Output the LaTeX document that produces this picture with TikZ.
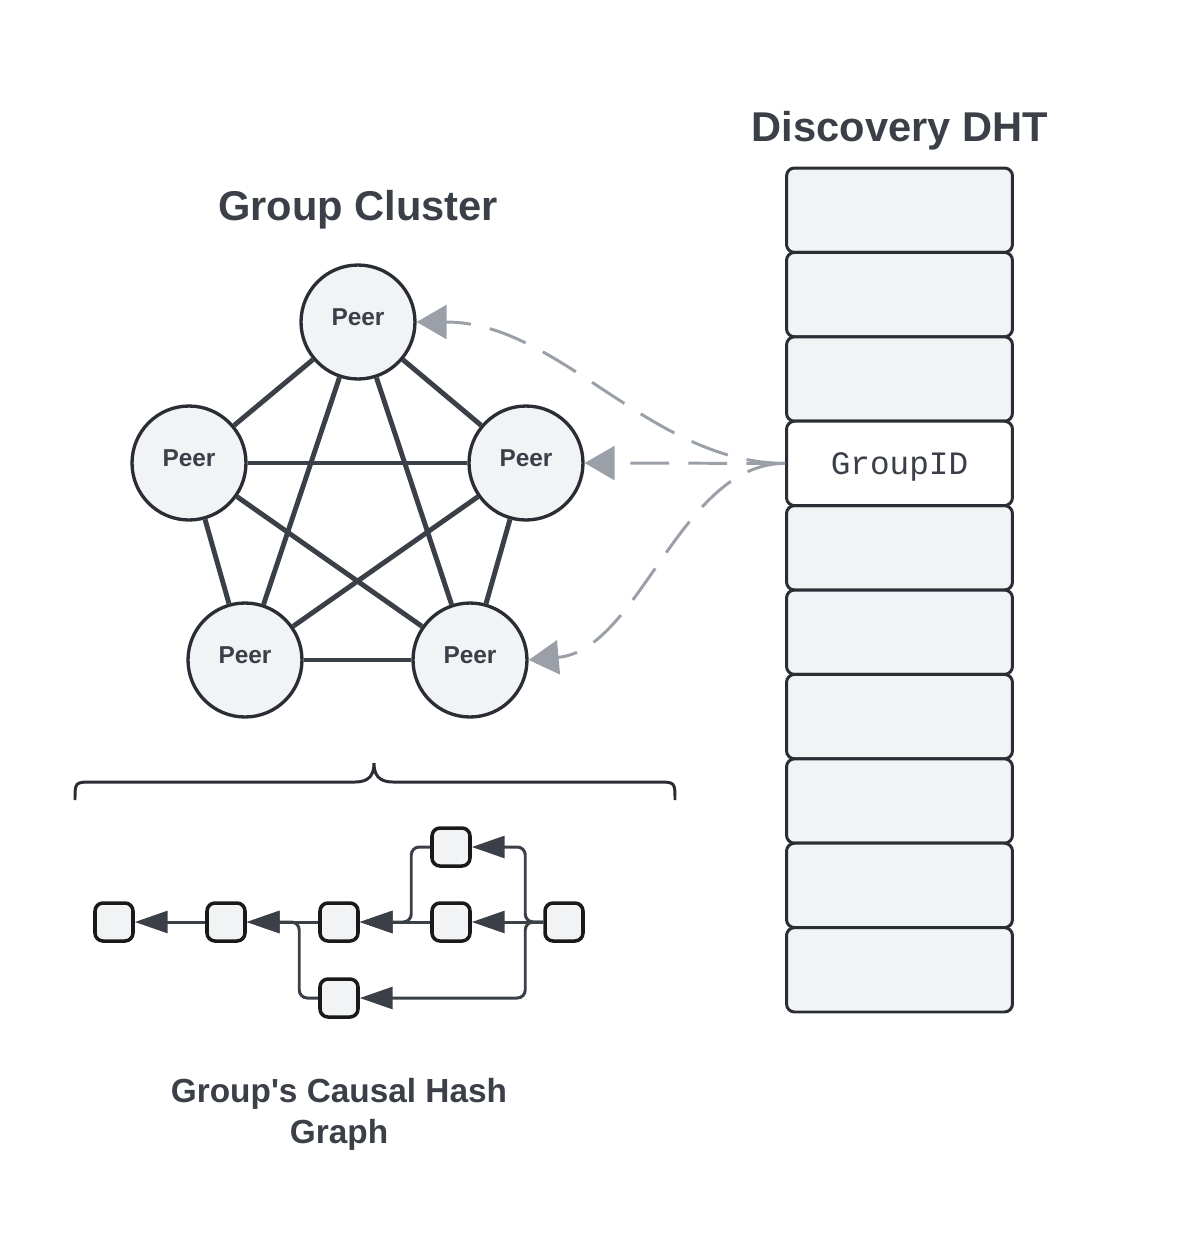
\documentclass[tikz,border=0pt]{standalone}
\usepackage{fontspec}
\setmainfont{Liberation Sans}[Ligatures=TeXOff]
\setmonofont{Liberation Mono}
\usetikzlibrary{arrows.meta,positioning,calc}
\definecolor{inkC}{RGB}{59,63,72}
\definecolor{rimC}{RGB}{42,45,52}
\definecolor{cellC}{RGB}{242,243,245}
\definecolor{dashC}{RGB}{155,160,168}

\begin{document}
\begin{tikzpicture}[
  x=0.02cm,y=-0.02cm,
  every node/.style={text=inkC},
  title/.style={font=\fontsize{23.7}{28}\selectfont\bfseries,anchor=base},
  peer/.style={circle,draw=rimC,line width=1.9pt,fill=cellC,minimum size=2.28cm,inner sep=0pt,
    font=\fontsize{13.9}{16}\selectfont\bfseries,text height=10pt,text depth=5.6pt},
  mesh/.style={draw=inkC,line width=2.8pt},
  cell/.style={draw=rimC,line width=1.7pt,fill=cellC,rounded corners=0.16cm,
    minimum width=4.52cm,minimum height=1.688cm,inner sep=0pt},
  link/.style={draw=dashC,line width=1.7pt,dash pattern=on 22pt off 11pt,
    -{Triangle[length=0.6cm,width=0.68cm]}},
  hash/.style={draw=black!90,line width=2pt,fill=cellC,rounded corners=0.16cm,
    minimum size=0.76cm,inner sep=0pt},
  hedge/.style={draw=inkC,line width=1.7pt,rounded corners=0.16cm,
    -{Triangle[length=0.66cm,width=0.44cm]}}
]
\useasboundingbox (0,0) rectangle (1200,1249);

% titles
\node[title] (clusterTitle) at (358,220) {Group Cluster};
\node[title] (dhtTitle) at (900,141) {Discovery DHT};

% group cluster
\node[peer] (pT) at (358,322) {Peer};
\node[peer] (pL) at (189,463) {Peer};
\node[peer] (pR) at (526,463) {Peer};
\node[peer] (pBL) at (245,660) {Peer};
\node[peer] (pBR) at (470,660) {Peer};
\foreach \a/\b in {pT/pL,pT/pR,pT/pBL,pT/pBR,pL/pR,pL/pBL,pL/pBR,pR/pBL,pR/pBR,pBL/pBR}
  \draw[mesh] (\a) -- (\b);

% discovery DHT
\foreach \i in {0,1,2,4,5,6,7,8,9}
  \node[cell] (dht\i) at (899.5,{210.2+84.4*\i}) {};
\node[cell,fill=white,font=\fontsize{18.6}{20}\ttfamily,text depth=0pt] (gid) at (899.5,463.4) {GroupID};

\draw[link] (gid.west) .. controls (650,463) and (560,322) .. (pT.east);
\draw[link] (gid.west) -- (pR.east);
\draw[link] (gid.west) .. controls (680,463) and (640,650) .. (pBR.east);

% brace
\draw[rimC,line width=1.7pt] (75,800) .. controls (75,782) .. (93,782) -- (355,782)
  .. controls (370,782) and (374,774) .. (374,763)
  .. controls (374,774) and (378,782) .. (393,782) -- (657,782)
  .. controls (675,782) .. (675,800);

% causal hash graph
\node[hash] (h1) at (114,922) {};
\node[hash] (h2) at (226,922) {};
\node[hash] (h3) at (339,922) {};
\node[hash] (h4) at (451,922) {};
\node[hash] (h5) at (451,847) {};
\node[hash] (h6) at (564,922) {};
\node[hash] (h7) at (339,998) {};
\draw[hedge] (h2) -- (h1);
\draw[hedge] (h3) -- (h2);
\draw[hedge] (h4) -- (h3);
\draw[hedge] (h6) -- (h4);
\draw[hedge] (h5.west) -- ++(-19,0) |- (h3.east);
\draw[hedge] (h6.west) -- ++(-18,0) |- (h5.east);
\draw[hedge] (h6.west) -- ++(-18,0) |- (h7.east);
\draw[hedge] (h7.west) -- ++(-19,0) |- (h2.east);

\node[font=\fontsize{19}{23.2}\selectfont\bfseries,align=center,anchor=base] (hashTitle)
  at (339,1143) {Group's Causal Hash\\Graph};
\end{tikzpicture}
\end{document}
